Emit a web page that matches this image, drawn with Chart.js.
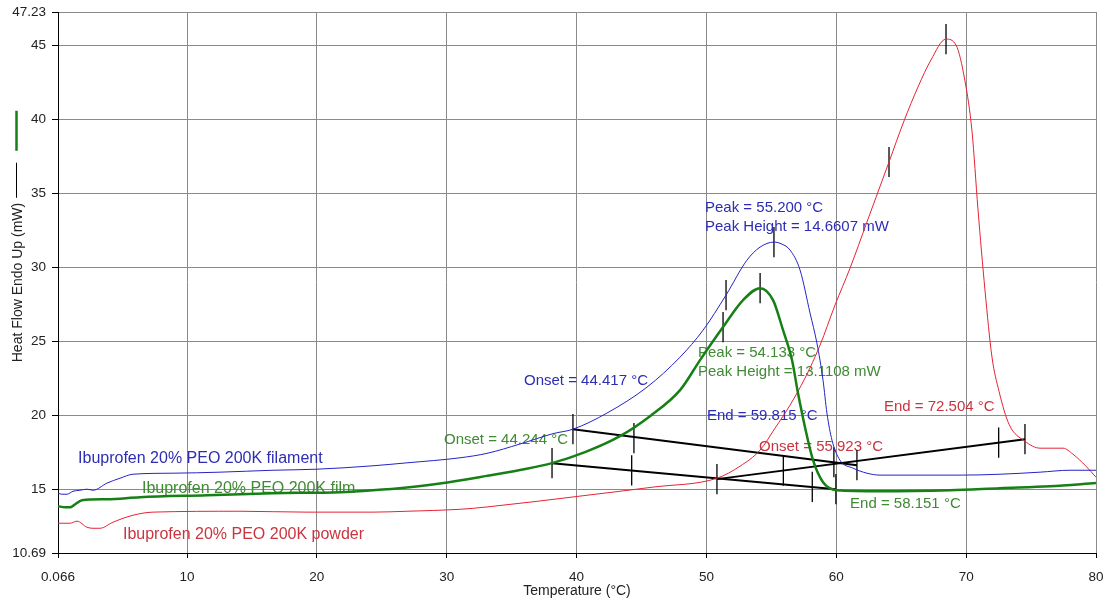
<!DOCTYPE html>
<html><head><meta charset="utf-8">
<script src="https://cdn.jsdelivr.net/npm/chart.js@4.4.0/dist/chart.umd.min.js"></script>
<style>html,body{margin:0;padding:0;background:#fff;}#wrap{width:1110px;height:603px;}</style>
</head><body><div id="wrap"><canvas id="c" width="1110" height="603"></canvas></div>
<script>
// ---- tick values ----
const xTickValues = [0.066, 10, 20, 30, 40, 50, 60, 70, 80];
const xTickLabels = ['0.066', '10', '20', '30', '40', '50', '60', '70', '80'];
const yTickValues = [10.69, 15, 20, 25, 30, 35, 40, 45, 47.23];
const yTickLabels = ['10.69', '15', '20', '25', '30', '35', '40', '45', '47.23'];

// ---- series: Ibuprofen 20% PEO 200K filament (blue) ----
const filamentT = [0.07,0.37,0.76,1.22,1.76,2.30,2.76,3.84,4.84,5.84,8.92,12.54,16.62,20.01,24.32,26.94,31.02,33.10,35.64,38.18,39.72,42.34,45.42,47.97,49.74,51.51,53.12,54.13,55.2,55.82,56.44,57.21,57.98,58.51,58.98,59.28,59.67,60.28,61.29,62.36,63.37,66.45,69.53,72.61,75.69,78.00,80.0];
const filamentY = [14.73,14.66,14.66,14.86,14.93,15.0,14.93,15.41,15.74,16.01,16.08,16.15,16.28,16.35,16.58,16.78,17.12,17.42,18.05,18.75,19.05,20.14,21.89,23.92,25.74,28.11,30.47,31.35,31.69,31.55,31.15,29.80,26.89,24.86,22.36,20.14,18.31,16.96,16.42,16.08,15.95,15.95,15.95,16.01,16.15,16.28,16.28];

// ---- series: Ibuprofen 20% PEO 200K film (green) ----
const filmT = [0.07,0.61,1.0,1.30,1.91,3.84,6.38,11.54,16.62,21.78,24.32,26.94,29.48,33.10,35.64,38.11,40.65,43.34,45.65,47.97,49.51,51.28,52.82,54.13,55.13,55.90,56.59,57.05,57.59,58.21,58.98,60.05,63.37,68.76,72.61,76.46,80.0];
const filmY = [13.85,13.78,13.78,13.92,14.26,14.32,14.46,14.59,14.73,14.80,14.93,15.12,15.38,15.90,16.30,16.76,17.50,18.58,19.93,21.69,23.72,25.95,27.77,28.58,27.77,25.74,23.72,21.49,19.19,16.96,15.47,14.93,14.86,14.93,15.07,15.20,15.41];

// ---- series: Ibuprofen 20% PEO 200K powder (red) ----
const powderT = [0.07,1.0,1.53,2.30,2.76,3.30,4.30,5.84,7.38,14.08,19.24,24.32,26.94,31.02,33.10,40.80,45.88,50.81,52.58,54.13,55.28,56.44,57.59,58.75,59.90,61.06,62.36,64.06,65.21,66.29,67.29,68.45,69.22,69.91,70.45,70.91,71.45,71.99,72.53,73.30,74.53,75.69,77.46,78.23,79.23,80.0];
const powderY = [12.70,12.70,12.84,12.43,12.36,12.36,12.77,13.24,13.45,13.51,13.45,13.45,13.51,13.64,13.80,14.59,15.14,15.74,16.55,17.64,19.12,20.68,22.50,24.73,27.43,29.93,33.04,37.10,39.86,42.16,43.99,45.40,45.0,42.57,39.19,33.92,28.45,23.92,21.62,19.39,18.24,17.77,17.77,17.36,16.55,15.81];

// ---- onset / end baselines ----
const filamentBaseT = [39.72, 61.59];
const filamentBaseY = [19.05, 16.62];
const filmBaseT = [38.11, 59.97];
const filmBaseY = [16.76, 15.0];
const powderBaseT = [50.81, 74.53];
const powderBaseY = [15.68, 18.38];

// ---- calculation markers (vertical ticks) ----
const markerT = [39.72, 44.417, 59.815, 61.59, 38.11, 44.244, 58.151, 59.97, 50.81, 55.923, 72.504, 74.53, 55.2, 51.51, 54.133, 51.28, 68.45, 64.06];
const markerY = [19.05, 18.45, 16.82, 16.62, 16.76, 16.27, 15.15, 15.0, 15.68, 16.26, 18.15, 18.38, 31.69, 28.11, 28.58, 25.95, 45.40, 37.10];

// ---- annotation texts and anchor values ----
const noteTexts = ['Peak = 55.200 °C','Peak Height = 14.6607 mW','Onset = 44.417 °C','End = 59.815 °C',
  'Peak = 54.133 °C','Peak Height = 13.1108 mW','Onset = 44.244 °C','End = 58.151 °C',
  'End = 72.504 °C','Onset = 55.923 °C'];
const noteT = [49.89, 49.89, 35.95, 50.04, 49.35, 49.35, 29.79, 61.06, 63.67, 54.05];
const noteY = [34.0, 32.75, 22.30, 19.95, 24.19, 22.90, 18.31, 14.0, 20.54, 17.85];
const noteSeries = [0,0,0,0,1,1,1,1,2,2];

const seriesNames = ['Ibuprofen 20% PEO 200K filament','Ibuprofen 20% PEO 200K film','Ibuprofen 20% PEO 200K powder'];
const nameT = [1.61, 6.53, 5.07];
const nameY = [17.1, 15.07, 11.96];

// ---- styles ----
const curveColors = ['#2323c8', '#168016', '#e62234'];
const textColors = ['#2d2db4', '#3f8a33', '#c9343f'];
const curveWidths = [1, 2.5, 1];
const TICK_HALF = 1.02;
const FONT = "'Liberation Sans', Arial, sans-serif";

function pts(ts, ys) { return ts.map((t, i) => ({x: t, y: ys[i]})); }

const datasets = [];
[[filamentT, filamentY], [filmT, filmY], [powderT, powderY]].forEach((s, i) => {
  datasets.push({ label: seriesNames[i], data: pts(s[0], s[1]), borderColor: curveColors[i],
    borderWidth: curveWidths[i], pointRadius: 0, cubicInterpolationMode: 'monotone', fill: false });
});
[[filamentBaseT, filamentBaseY], [filmBaseT, filmBaseY], [powderBaseT, powderBaseY]].forEach((s) => {
  datasets.push({ data: pts(s[0], s[1]), borderColor: '#000', borderWidth: 2, pointRadius: 0, fill: false });
});
markerT.forEach((t, i) => {
  datasets.push({ data: [{x: t, y: markerY[i] - TICK_HALF}, {x: t, y: markerY[i] + TICK_HALF}],
    borderColor: '#000', borderWidth: 1.3, pointRadius: 0, fill: false });
});

const notesPlugin = {
  id: 'notes',
  beforeDatasetsDraw(chart) {
    const {ctx, scales: {x, y}} = chart;
    ctx.save();
    ctx.textAlign = 'left';
    ctx.textBaseline = 'middle';
    ctx.font = '15px ' + FONT;
    noteTexts.forEach((txt, i) => {
      ctx.fillStyle = textColors[noteSeries[i]];
      ctx.fillText(txt, x.getPixelForValue(noteT[i]), y.getPixelForValue(noteY[i]));
    });
    ctx.font = '16px ' + FONT;
    seriesNames.forEach((txt, i) => {
      ctx.fillStyle = textColors[i];
      ctx.fillText(txt, x.getPixelForValue(nameT[i]), y.getPixelForValue(nameY[i]));
    });
    ctx.restore();
  },
  afterDraw(chart) {
    // small line keys above the y axis title
    const {ctx, chartArea} = chart;
    const cy = (chartArea.top + chartArea.bottom) / 2;
    ctx.save();
    ctx.font = '14px ' + FONT;
    const w = ctx.measureText('Heat Flow Endo Up (mW)').width;
    const topEnd = cy - w / 2;
    ctx.strokeStyle = '#000'; ctx.lineWidth = 1;
    ctx.beginPath(); ctx.moveTo(16.5, topEnd - 5); ctx.lineTo(16.5, topEnd - 40); ctx.stroke();
    ctx.strokeStyle = curveColors[1]; ctx.lineWidth = 2.5;
    ctx.beginPath(); ctx.moveTo(16.5, topEnd - 52); ctx.lineTo(16.5, topEnd - 92); ctx.stroke();
    ctx.restore();
  }
};

new Chart(document.getElementById('c'), {
  type: 'line',
  data: { datasets },
  options: {
    responsive: false, animation: false, devicePixelRatio: 1,
    layout: { padding: { left: 0, top: 12, right: 14, bottom: 0 } },
    plugins: { legend: { display: false }, tooltip: { enabled: false } },
    elements: { line: { tension: 0 } },
    scales: {
      x: {
        type: 'linear', min: 0.066, max: 80,
        afterBuildTicks: (s) => { s.ticks = xTickValues.map(v => ({value: v})); },
        afterFit: (s) => { s.height = 50; s.paddingLeft = 0; s.paddingRight = 0; },
        ticks: { autoSkip: false, maxRotation: 0, padding: 11, color: '#222',
          font: { family: FONT, size: 13.5 }, callback: (v, i) => xTickLabels[i] },
        grid: { color: '#8a8a8a', lineWidth: 1, tickLength: 5, tickColor: '#000' },
        border: { color: '#000', width: 1 },
        title: { display: true, text: 'Temperature (°C)', color: '#222',
          font: { family: FONT, size: 14 }, padding: { top: 0, bottom: 3 } }
      },
      y: {
        type: 'linear', min: 10.69, max: 47.23,
        afterBuildTicks: (s) => { s.ticks = yTickValues.map(v => ({value: v})); },
        afterFit: (s) => { s.width = 58; s.paddingTop = 0; s.paddingBottom = 0; },
        ticks: { autoSkip: false, padding: 6, color: '#222',
          font: { family: FONT, size: 13.5 }, callback: (v, i) => yTickLabels[i] },
        grid: { color: '#8a8a8a', lineWidth: 1, tickLength: 6, tickColor: '#000' },
        border: { color: '#000', width: 1 },
        title: { display: true, text: 'Heat Flow Endo Up (mW)', color: '#222',
          font: { family: FONT, size: 14 }, padding: { top: 10, bottom: 0 } }
      }
    }
  },
  plugins: [notesPlugin]
});
</script>
</body></html>
